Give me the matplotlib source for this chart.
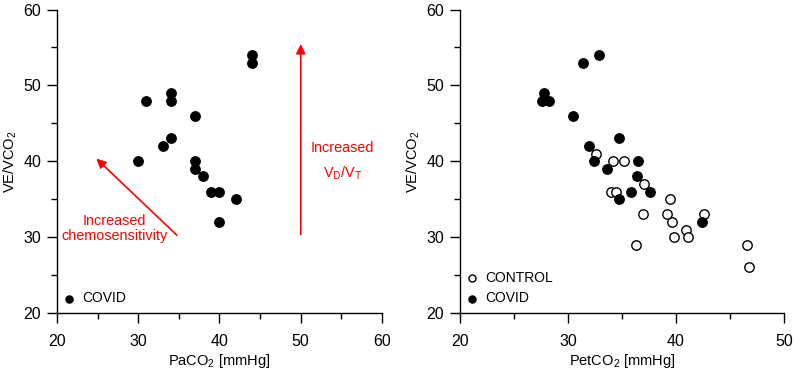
import numpy as np
import matplotlib
matplotlib.use('Agg')
import matplotlib.pyplot as plt
from matplotlib.ticker import MultipleLocator

plt.rcParams['font.family'] = ['Liberation Sans', 'DejaVu Sans']
plt.rcParams['mathtext.fontset'] = 'custom'
plt.rcParams['mathtext.rm'] = 'Liberation Sans'
plt.rcParams['mathtext.it'] = 'Liberation Sans:italic'

# left panel: COVID, PaCO2 vs VE/VCO2
paco2_covid = [44, 44, 31, 34, 34, 37, 34, 33, 30, 37, 37, 38, 39, 40, 42, 40]
vevco2_covid_a = [54, 53, 48, 49, 48, 46, 43, 42, 40, 40, 39, 38, 36, 36, 35, 32]

# right panel: PetCO2 vs VE/VCO2
petco2_covid = [27.8, 27.6, 28.2, 31.4, 32.9, 30.5, 34.7, 31.9, 32.4, 36.5,
                33.6, 36.4, 35.8, 37.6, 34.7, 42.4]
vevco2_covid_b = [49, 48, 48, 53, 54, 46, 43, 42, 40, 40, 39, 38, 36, 36, 35, 32]

petco2_control = [32.6, 34.2, 35.2, 37.0, 34.0, 34.4, 39.4, 36.9, 39.2, 42.6,
                  39.6, 40.9, 39.8, 41.1, 36.3, 46.6, 46.8]
vevco2_control = [41, 40, 40, 37, 36, 36, 35, 33, 33, 33, 32, 31, 30, 30, 29, 29, 26]

W, H = 794, 375
fig = plt.figure(figsize=(W / 100, H / 100), dpi=100)

def px_axes(x0, x1, y0, y1):
    return fig.add_axes([x0 / W, 1 - y1 / H, (x1 - x0) / W, (y1 - y0) / H])

def style(ax, xmax, xlabel):
    for s in ['top', 'right']:
        ax.spines[s].set_visible(False)
    for s in ['left', 'bottom']:
        ax.spines[s].set_linewidth(1.0)
    ax.set_xlim(20, xmax)
    ax.set_ylim(20, 60)
    ax.xaxis.set_major_locator(MultipleLocator(10))
    ax.xaxis.set_minor_locator(MultipleLocator(5))
    ax.yaxis.set_major_locator(MultipleLocator(10))
    ax.yaxis.set_minor_locator(MultipleLocator(5))
    ax.tick_params(which='major', direction='out', length=7.5, width=1.0, labelsize=11.5)
    ax.tick_params(which='minor', direction='out', length=4.5, width=1.0)
    ax.tick_params(axis='x', which='major', pad=7.5)
    ax.tick_params(axis='y', which='major', pad=4)
    ax.set_xlabel(xlabel, fontsize=10.5, labelpad=2)
    ax.set_ylabel('VE/VCO$_2$', fontsize=10.5, labelpad=3)

def add_legend(ax):
    ax.legend(loc='lower left', bbox_to_anchor=(-0.005, 0.0), frameon=False, fontsize=10,
              markerscale=0.75, handlelength=0.8, handletextpad=0.6,
              borderaxespad=0.15, labelspacing=0.45)

ms = 46

ax1 = px_axes(57, 382, 9.5, 313)
ax1.scatter(paco2_covid, vevco2_covid_a, s=ms, color='black', label='COVID', clip_on=False, zorder=3)
style(ax1, 60, 'PaCO$_2$ [mmHg]')
ax1.annotate('', xy=(24.6, 40.6), xytext=(35, 30),
             arrowprops=dict(arrowstyle='-|>', color='red', lw=1.2, mutation_scale=14))
ax1.annotate('', xy=(50, 55.8), xytext=(50, 30),
             arrowprops=dict(arrowstyle='-|>', color='red', lw=1.2, mutation_scale=14))
ax1.text(27.1, 31.1, 'Increased\nchemosensitivity', color='red', fontsize=10.4,
         ha='center', va='center', linespacing=1.1)
ax1.text(55.1, 41.8, 'Increased', color='red', fontsize=10.4, ha='center', va='center')
ax1.text(55.1, 38.4, r'$\mathrm{V_D/V_T}$', color='red', fontsize=10.4, ha='center', va='center')
add_legend(ax1)

ax2 = px_axes(460, 784, 9.5, 313)
ax2.scatter(petco2_control, vevco2_control, s=ms, facecolor='white', edgecolor='black',
            linewidth=1.0, label='CONTROL', zorder=3)
ax2.scatter(petco2_covid, vevco2_covid_b, s=ms, color='black', label='COVID', zorder=4)
style(ax2, 50, 'PetCO$_2$ [mmHg]')
add_legend(ax2)

fig.savefig('out.png', dpi=100)
